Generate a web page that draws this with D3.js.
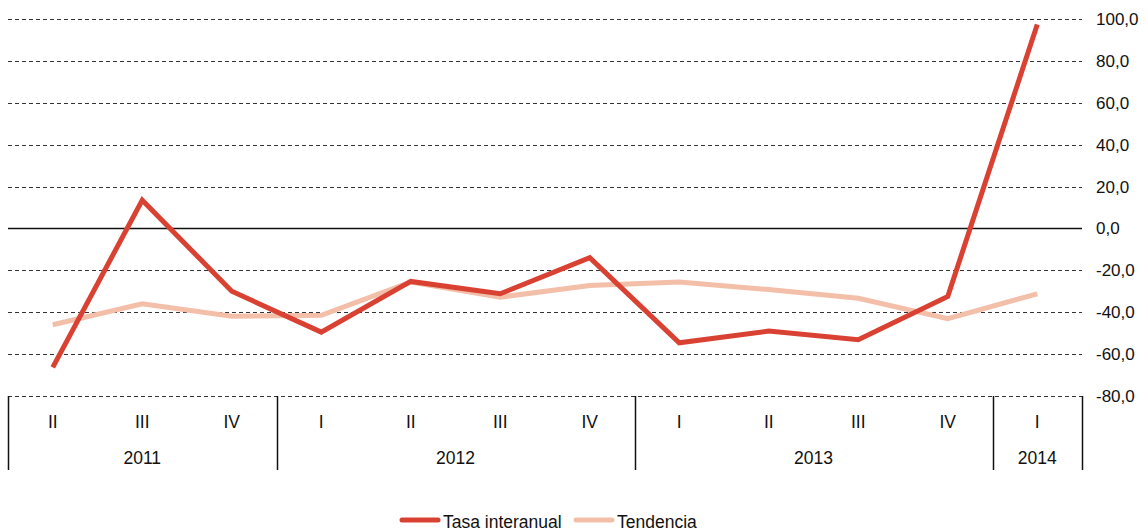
<!DOCTYPE html>
<html><head><meta charset="utf-8">
<script src="https://cdn.jsdelivr.net/npm/d3@7"></script>
<style>body{margin:0;background:#fff}svg{display:block;font-family:"Liberation Sans",Arial,sans-serif}</style>
</head><body><svg id="c" width="1148" height="531"></svg>
<script>
const quarters = ["II","III","IV","I","II","III","IV","I","II","III","IV","I"];
const yearOf = ["2011","2011","2011","2012","2012","2012","2012","2013","2013","2013","2013","2014"];
const years = ["2011","2012","2013","2014"];
const tasa = [-66.3, 13.5, -30.0, -49.5, -25.3, -31.2, -14.0, -54.6, -49.0, -53.1, -32.5, 97.4];
const tendencia = [-46.0, -36.0, -41.9, -41.5, -25.6, -32.8, -27.2, -25.6, -29.2, -33.3, -43.1, -31.2];
const yTicks = [100, 80, 60, 40, 20, 0, -20, -40, -60, -80];
const seriesNames = ["Tasa interanual", "Tendencia"];
const colors = ["#d94233", "#f3bfa9"];

(function(){
const svg = d3.select("#c");
const mL = 8, mR = 1082, mT = 19, mB = 396;
const idx = quarters.map((q, i) => i);
const x = d3.scaleBand().domain(idx).range([mL, mR]).padding(0);
const cx = i => x(i) + x.bandwidth() / 2;
const y = d3.scaleLinear().domain([-80, 100]).range([mB, mT]);
const fmt = v => d3.format(".1f")(v).replace(".", ",").replace("\u2212", "-");

svg.append("g").selectAll("line").data(yTicks.filter(v => v !== 0)).join("line")
  .attr("x1", mL).attr("x2", mR)
  .attr("y1", d => Math.round(y(d)) + 0.5).attr("y2", d => Math.round(y(d)) + 0.5)
  .attr("stroke", "#333").attr("stroke-width", 1).attr("stroke-dasharray", "4,3");
svg.append("g").selectAll("text").data(yTicks).join("text")
  .attr("x", 1096).attr("y", d => y(d) + 6)
  .attr("font-size", 17).attr("fill", "#111").text(d => fmt(d));

const g = svg.append("g");
g.selectAll("text.q").data(idx).join("text").attr("class", "q")
  .attr("x", i => cx(i)).attr("y", 428).attr("text-anchor", "middle")
  .attr("font-size", 17.5).attr("fill", "#111").text(i => quarters[i]);
const yearSpans = years.map(yr => {
  const ii = idx.filter(i => yearOf[i] === yr);
  return {yr, x0: x(ii[0]), x1: x(ii[ii.length - 1]) + x.bandwidth()};
});
g.selectAll("text.y").data(yearSpans).join("text").attr("class", "y")
  .attr("x", d => (d.x0 + d.x1) / 2).attr("y", 464).attr("text-anchor", "middle")
  .attr("font-size", 17.5).attr("fill", "#111").text(d => d.yr);
const seps = [yearSpans[0].x0, ...yearSpans.map(d => d.x1)];
g.selectAll("line.sep").data(seps).join("line").attr("class", "sep")
  .attr("x1", d => Math.round(d) + 0.5).attr("x2", d => Math.round(d) + 0.5)
  .attr("y1", mB).attr("y2", 470).attr("stroke", "#111").attr("stroke-width", 1.5);

svg.append("line").attr("x1", mL).attr("x2", mR)
  .attr("y1", y(0)).attr("y2", y(0)).attr("stroke", "#111").attr("stroke-width", 1.5);

const line = d3.line().x((d, i) => cx(i)).y(d => y(d));
svg.append("path").datum(tendencia).attr("d", line).attr("fill", "none")
  .attr("stroke", colors[1]).attr("stroke-width", 5);
svg.append("path").datum(tasa).attr("d", line).attr("fill", "none")
  .attr("stroke", colors[0]).attr("stroke-width", 5);

const leg = [{name: seriesNames[0], c: colors[0], x: 402}, {name: seriesNames[1], c: colors[1], x: 576}];
const lg = svg.append("g");
leg.forEach(d => {
  lg.append("line").attr("x1", d.x).attr("x2", d.x + 36).attr("y1", 520).attr("y2", 520)
    .attr("stroke", d.c).attr("stroke-width", 5).attr("stroke-linecap", "round");
  lg.append("text").attr("x", d.x + 41).attr("y", 528).attr("font-size", 17.5).attr("fill", "#111").text(d.name);
});
})();
</script></body></html>
